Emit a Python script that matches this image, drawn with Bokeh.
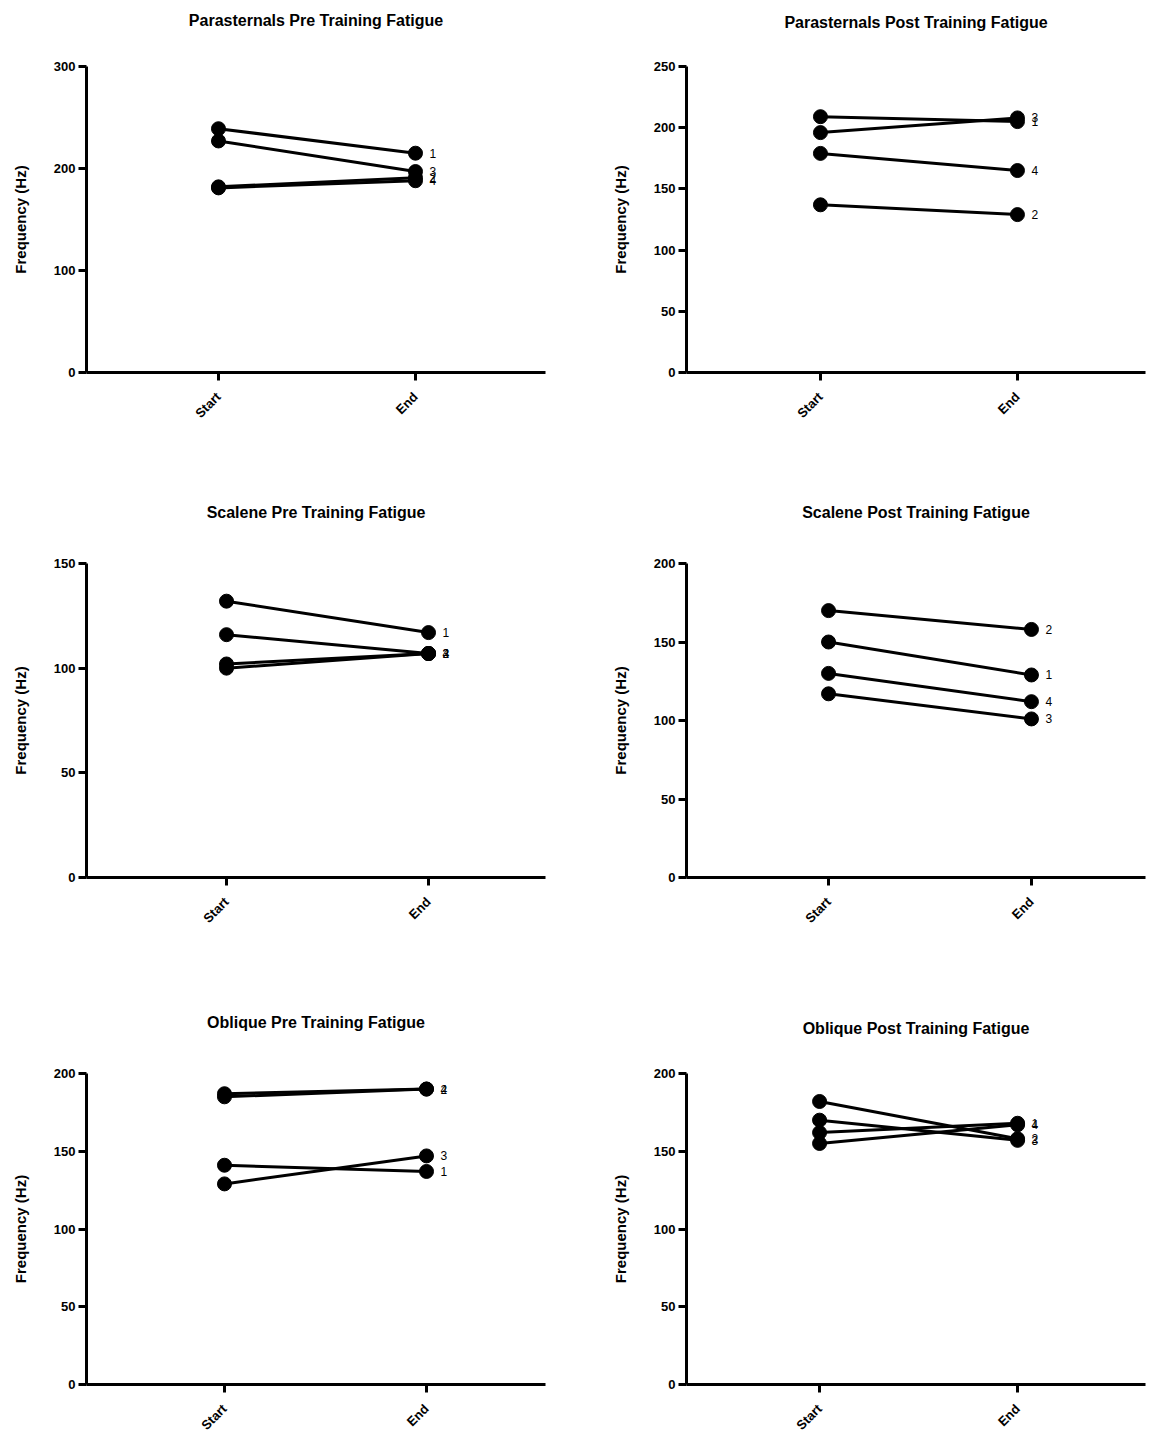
import math
from bokeh.plotting import figure
from bokeh.layouts import column, row
from bokeh.models import FixedTicker, Range1d, ColumnDataSource, Title
from bokeh.core.properties import value
from bokeh.embed import file_html
from bokeh.resources import INLINE

# ---------------- data ----------------
categories = ["Start", "End"]
subjects = ["1", "2", "3", "4"]

para_pre_start = [239, 182, 227, 181]
para_pre_end = [215, 191, 197, 188]

para_post_start = [209, 137, 196, 179]
para_post_end = [205, 129, 208, 165]

scal_pre_start = [132, 102, 116, 100]
scal_pre_end = [117, 107, 107, 107]

scal_post_start = [150, 170, 117, 130]
scal_post_end = [129, 158, 101, 112]

obl_pre_start = [141, 187, 129, 185]
obl_pre_end = [137, 190, 147, 190]

obl_post_start = [162, 182, 170, 155]
obl_post_end = [168, 158, 157, 167]

titles = [
    "Parasternals Pre Training Fatigue",
    "Parasternals Post Training Fatigue",
    "Scalene Pre Training Fatigue",
    "Scalene Post Training Fatigue",
    "Oblique Pre Training Fatigue",
    "Oblique Post Training Fatigue",
]
y_max = [300, 250, 150, 200, 200, 200]
y_step = [100, 50, 50, 50, 50, 50]
y_label = "Frequency (Hz)"

series = [
    (para_pre_start, para_pre_end),
    (para_post_start, para_post_end),
    (scal_pre_start, scal_pre_end),
    (scal_post_start, scal_post_end),
    (obl_pre_start, obl_pre_end),
    (obl_post_start, obl_post_end),
]

# ---------------- layout config ----------------
W = [586, 582]
FW = 459
row_h = [486, 490, 470]
row_top = [66, 77, 97]
row_bottom = [114, 99, 62]
# (border_left, x_lo, x_hi, extra gap under title)
layout_cfg = [
    (86, 0.330, 2.660, 27),
    (100, 0.320, 2.650, 25),
    (86, 0.307, 2.579, 32),
    (100, 0.300, 2.562, 32),
    (86, 0.317, 2.589, 32),
    (100, 0.328, 2.646, 26),
]
FONT = "Liberation Sans"


def make_panel(i):
    bl, xlo, xhi, gap = layout_cfg[i]
    r = i // 2
    w = W[i % 2]
    rh = row_h[r]
    bt, bb = row_top[r], row_bottom[r]
    p = figure(
        width=w, height=rh,
        x_range=Range1d(xlo, xhi), y_range=Range1d(0, y_max[i]),
        output_backend="svg", toolbar_location=None,
        min_border_left=bl, min_border_right=w - bl - FW,
        min_border_top=bt, min_border_bottom=bb,
    )
    # spacer between frame and title
    p.add_layout(Title(text=" ", text_font_size="2px", standoff=gap), "above")
    p.title = Title(text=titles[i])
    p.title.text_font = FONT
    p.title.text_font_style = "bold"
    p.title.text_font_size = "16px"
    p.title.text_color = "black"
    p.title.align = "center"
    p.title.vertical_align = "top"
    p.title.standoff = 10
    p.outline_line_color = None
    p.xgrid.grid_line_color = None
    p.ygrid.grid_line_color = None

    for ax in (p.xaxis[0], p.yaxis[0]):
        ax.axis_line_width = 3
        ax.axis_line_color = "black"
        ax.major_tick_line_width = 3
        ax.major_tick_line_color = "black"
        ax.major_tick_out = 8
        ax.major_tick_in = 0
        ax.minor_tick_line_color = None
        ax.major_label_text_font = FONT
        ax.major_label_text_font_style = "bold"
        ax.major_label_text_font_size = "13px"
        ax.major_label_text_color = "black"

    p.xaxis.ticker = FixedTicker(ticks=[1, 2])
    p.xaxis.major_label_overrides = {1: categories[0], 2: categories[1]}
    p.xaxis.major_label_orientation = math.pi / 4
    p.xaxis.major_label_standoff = 14

    p.yaxis.ticker = FixedTicker(ticks=list(range(0, y_max[i] + 1, y_step[i])))
    p.yaxis.axis_label = y_label
    p.yaxis.axis_label_text_font = FONT
    p.yaxis.axis_label_text_font_style = "bold"
    p.yaxis.axis_label_text_font_size = "15px"
    p.yaxis.axis_label_text_color = "black"
    p.yaxis.axis_label_standoff = 22
    p.yaxis.major_label_standoff = 3

    starts, ends = series[i]
    for s, e in zip(starts, ends):
        p.line([1, 2], [s, e], line_color="black", line_width=3)
    src = ColumnDataSource(dict(
        x=[1] * len(starts) + [2] * len(ends),
        y=list(starts) + list(ends),
    ))
    p.scatter("x", "y", source=src, size=14, fill_color="black", line_color="black")
    lab = ColumnDataSource(dict(x=[2] * len(ends), y=list(ends), t=subjects))
    p.text("x", "y", text="t", source=lab, x_offset=14, text_baseline="middle",
           text_font=value(FONT), text_font_size="12px", text_color="black")
    return p


panels = [make_panel(i) for i in range(6)]
layout = column(
    row(panels[0], panels[1]),
    row(panels[2], panels[3]),
    row(panels[4], panels[5]),
)

open("out.html", "w").write(file_html(layout, INLINE))
